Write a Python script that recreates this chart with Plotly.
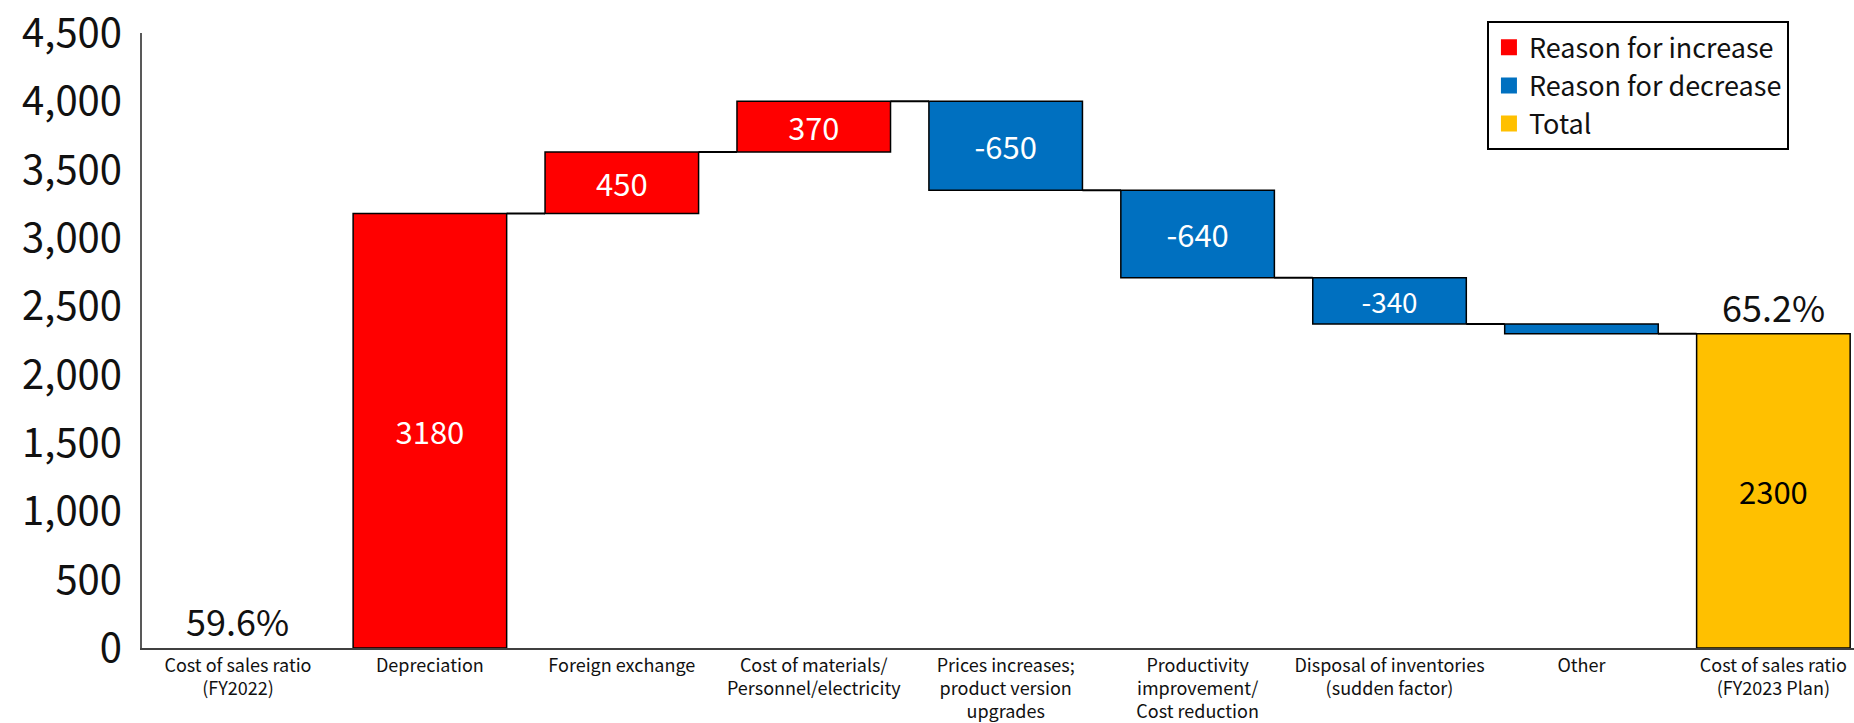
import plotly.graph_objects as go

# ---------------- data ----------------
categories = [
    "Cost of sales ratio<br>(FY2022)",
    "Depreciation",
    "Foreign exchange",
    "Cost of materials/<br>Personnel/electricity",
    "Prices increases;<br>product version<br>upgrades",
    "Productivity<br>improvement/<br>Cost reduction",
    "Disposal of inventories<br>(sudden factor)",
    "Other",
    "Cost of sales ratio<br>(FY2023 Plan)",
]
measures = ["absolute", "relative", "relative", "relative", "relative",
            "relative", "relative", "relative", "total"]
changes = [0, 3180, 450, 370, -650, -640, -340, -70, 0]
bar_labels = ["", "3180", "450", "370", "-650", "-640", "-340", "", "2300"]
ratio_labels = ["59.6%", "65.2%"]
legend_names = ["Reason for increase", "Reason for decrease", "Total"]

# ---------------- style ----------------
RED, BLUE, GOLD = "#FF0000", "#0070C0", "#FFC000"
JP = "Noto Sans CJK JP"
BARGAP = 0.2

# ---------------- compute waterfall ----------------
cum = []
running = 0
bases = []
heights = []
for m, c in zip(measures, changes):
    if m == "absolute":
        bases.append(0)
        heights.append(c)
        running = c
    elif m == "relative":
        bases.append(running)
        heights.append(c)
        running += c
    else:
        bases.append(0)
        heights.append(running)
    cum.append(running)

x_idx = list(range(len(categories)))
inc = [i for i, m in enumerate(measures) if m == "relative" and changes[i] > 0]
dec = [i for i, m in enumerate(measures) if m == "relative" and changes[i] < 0]
tot = [i for i, m in enumerate(measures) if m == "total"]

fig = go.Figure()

def add_bars(idx, color, name, txtcolor):
    fig.add_trace(go.Bar(
        x=idx, y=[heights[i] for i in idx], base=[bases[i] for i in idx],
        name=name, legendgroup=name, showlegend=False,
        marker=dict(color=color, line=dict(color="#000000", width=1.5)),
        text=[bar_labels[i] for i in idx], textposition="inside",
        insidetextanchor="middle", textangle=0,
        textfont=dict(family=JP, size=31, color=txtcolor),
        hoverinfo="skip",
    ))
    # legend proxy with a larger square swatch
    fig.add_trace(go.Scatter(
        x=[None], y=[None], mode="markers", name=name, legendgroup=name,
        marker=dict(symbol="square", size=18, color=color), hoverinfo="skip",
    ))

add_bars(inc, RED, legend_names[0], "white")
add_bars(dec, BLUE, legend_names[1], "white")
add_bars(tot, GOLD, legend_names[2], "black")

# connectors
hw = (1 - BARGAP) / 2
cx, cy = [], []
for i in range(1, len(categories) - 1):
    cx += [i + hw, i + 1 - hw, None]
    cy += [cum[i], cum[i], None]
fig.add_trace(go.Scatter(x=cx, y=cy, mode="lines", line=dict(color="#000000", width=2),
                         showlegend=False, hoverinfo="skip"))

# ratio labels
fig.add_annotation(x=0, y=cum[0], text=ratio_labels[0], showarrow=False,
                   yanchor="bottom", font=dict(family=JP, size=36, color="#111111"))
fig.add_annotation(x=tot[0], y=heights[tot[0]], text=ratio_labels[1], showarrow=False,
                   yanchor="bottom", font=dict(family=JP, size=36, color="#111111"))

fig.update_layout(
    width=1854, height=723,
    margin=dict(l=142, r=0, t=33, b=75),
    barmode="overlay", bargap=BARGAP,
    plot_bgcolor="white", paper_bgcolor="white",
    showlegend=True,
    legend=dict(x=0.7856, y=1.019, xanchor="left", yanchor="top",
                bordercolor="#000000", borderwidth=2, bgcolor="white",
                font=dict(family=JP, size=27, color="#111111"),
                itemwidth=30, tracegroupgap=0),
    xaxis=dict(range=[-0.5, 8.42], tickmode="array", tickvals=x_idx, ticktext=categories,
               showgrid=False, zeroline=False, showline=True, linecolor="#404040", linewidth=2,
               ticks="", tickfont=dict(family=JP, size=18, color="#111111"),
               tickangle=0),
    yaxis=dict(range=[0, 4500], dtick=500, tickformat=",", showgrid=False, zeroline=False,
               showline=True, linecolor="#595959", linewidth=2, ticks="",
               ticklabelstandoff=10,
               tickfont=dict(family=JP, size=40, color="#111111")),
)

fig.write_html("out.html")
